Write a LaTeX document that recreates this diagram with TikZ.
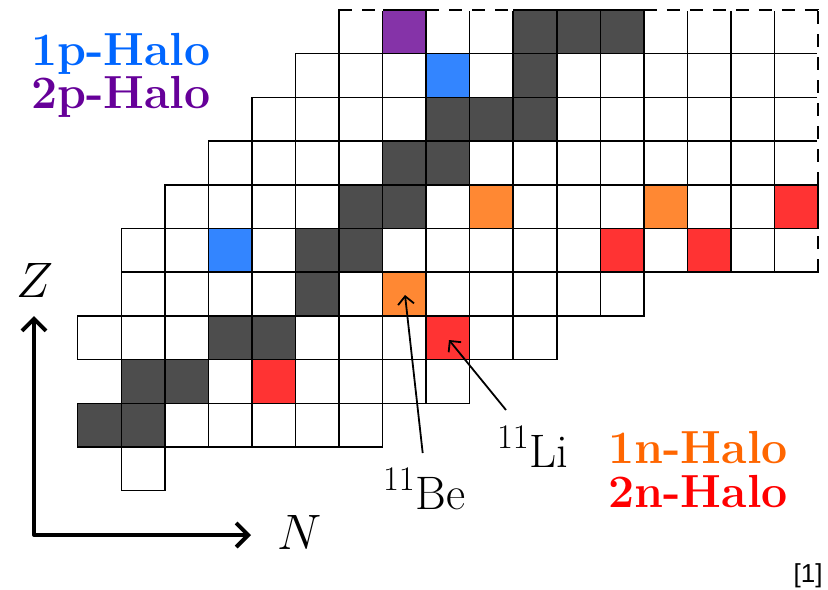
\documentclass[tikz,border=0pt]{standalone}
\usepackage{fontspec}
\newfontfamily\refsans{Liberation Sans}
\DeclareMathSizes{23.5}{23.5}{17}{12}
\usetikzlibrary{arrows.meta}
\definecolor{cdark}{HTML}{4D4D4D}
\definecolor{cpurple}{HTML}{8533A8}
\definecolor{cblue}{HTML}{3385FF}
\definecolor{corange}{HTML}{FF8833}
\definecolor{cred}{HTML}{FF3333}
\definecolor{tblue}{HTML}{0066FF}
\definecolor{tpurple}{HTML}{660099}
\definecolor{torange}{HTML}{FF6600}
\definecolor{tred}{HTML}{FF0000}
\begin{document}
\begin{tikzpicture}[x=0.5pt,y=-0.5pt,
  cellline/.style={line width=0.75pt},
  bound/.style={line width=0.8pt, dash pattern=on 6.5pt off 5pt},
  legend/.style={inner sep=0pt, anchor=base west, font=\fontsize{23.2}{27}\selectfont\bfseries},
  lab/.style={inner sep=0pt, anchor=base west, font=\fontsize{23.5}{28}\selectfont},
  axis/.style={line width=2pt, {Straight Barb[length=6pt,width=12pt]}-{Straight Barb[length=6pt,width=12pt]}},
  pointer/.style={line width=0.9pt, -{Straight Barb[length=4pt,width=8pt]}}]
\useasboundingbox (0,0) rectangle (828,589);
\fill[white] (0,0) rectangle (828,589);
\begin{scope}[shift={(38.85pt,-245.35pt)}, x=21.775pt, y=21.85pt]
  % coloured cells
  \foreach \c/\r in {0/1,1/1,1/2,2/2,3/3,4/3,5/4,5/5,6/5,6/6,7/6,7/7,8/7,8/8,9/8,10/8,10/9,10/10,11/10,12/10}
    \fill[cdark] (\c,\r) rectangle ++(1,1);
  \foreach \c/\r in {3/5,8/9}
    \fill[cblue] (\c,\r) rectangle ++(1,1);
  \fill[cpurple] (7,10) rectangle ++(1,1);
  \foreach \c/\r in {7/4,9/6,13/6}
    \fill[corange] (\c,\r) rectangle ++(1,1);
  \foreach \c/\r in {4/2,8/3,12/5,14/5,16/6}
    \fill[cred] (\c,\r) rectangle ++(1,1);
  % grid
  \foreach \r/\a/\b in {0/1/1,1/0/6,2/1/8,3/0/10,4/1/12,5/1/16,6/2/16,7/3/16,8/4/16,9/5/16,10/6/16}
    \foreach \c in {\a,...,\b}
      \draw[cellline] (\c,\r) rectangle ++(1,1);
  % dashed outer boundary
  \foreach \p/\q in {{(6,11)}/{(7,11)},{(8,11)}/{(10,11)},{(13,11)}/{(17,11)},{(17,5)}/{(17,6)},{(17,7)}/{(17,11)}}
    \draw[white, line width=1.4pt] \p -- \q;
  \foreach \p/\q in {{(6,11)}/{(7,11)},{(8,11)}/{(10,11)},{(13,11)}/{(17,11)},{(17,5)}/{(17,6)},{(17,7)}/{(17,11)}}
    \draw[bound] \p -- \q;
\end{scope}
% legends
\node[legend, text=tblue] (p1) at (30.7,65) {1p-Halo};
\node[legend, text=tpurple] (p2) at (30.7,108) {2p-Halo};
\node[legend, text=torange] (n1) at (608,463) {1n-Halo};
\node[legend, text=tred] (n2) at (608,507) {2n-Halo};
% labels
\node[lab] (be) at (382.7,509) {$^{11}$Be};
\node[lab] (li) at (496.7,467) {$^{11}$Li};
\coordinate (beS) at (422.7,453);
\coordinate (beT) at (405,295);
\coordinate (liS) at (506,410);
\coordinate (liT) at (449,340);
\draw[pointer] (beS) -- (beT);
\draw[pointer] (liS) -- (liT);
% axes
\coordinate (zt) at (34,316);
\coordinate (corner) at (34,535);
\coordinate (nt) at (251,535);
\draw[axis, line join=round] (zt) -- (corner) -- (nt);
\node[inner sep=0pt, anchor=base, font=\fontsize{23.5}{28}\selectfont] (zlab) at (35,297) {$Z$};
\node[inner sep=0pt, anchor=base west, font=\fontsize{23.5}{28}\selectfont] (nlab) at (277,549) {$N$};
\node[inner sep=0pt, anchor=base east, font=\refsans\fontsize{13}{15}\selectfont] (ref) at (823,582) {[1]};
\end{tikzpicture}
\end{document}
